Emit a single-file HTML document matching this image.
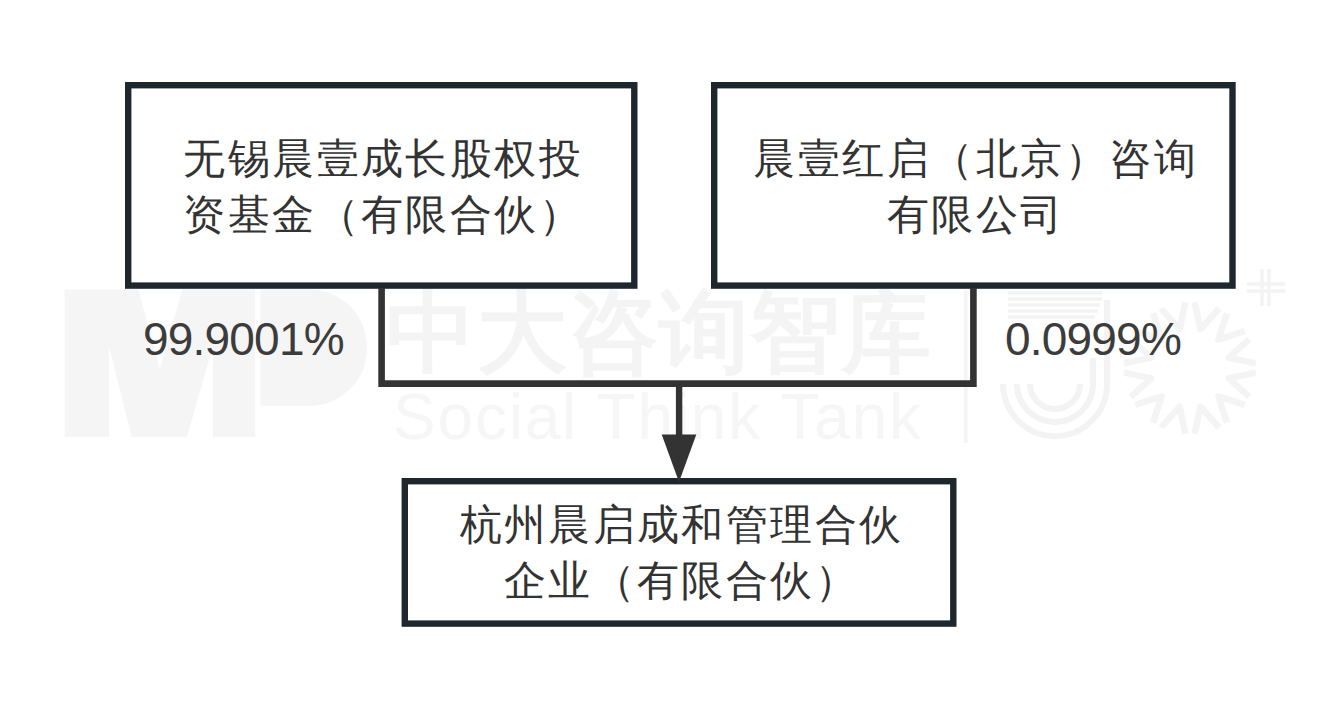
<!DOCTYPE html>
<html><head><meta charset="utf-8">
<style>
html,body{margin:0;padding:0;background:#fff;width:1336px;height:709px;overflow:hidden}
body{position:relative;font-family:"Liberation Sans",sans-serif;color:#333}
svg{position:absolute;left:0;top:0}
.t{position:absolute;font-size:42px;line-height:56px;text-align:center;white-space:nowrap;color:#333}
.p{position:absolute;font-size:46px;line-height:50px;letter-spacing:-0.8px;white-space:nowrap;color:#3c3c3c}
.wm{position:absolute;white-space:nowrap;color:#f4f4f4}
</style></head><body>
<!-- watermark -->
<svg width="1336" height="709" viewBox="0 0 1336 709">
  <g fill="#f5f5f5">
    <path d="M64.6 289.6 H138.4 L159.8 368.5 L182.4 289.6 H255.2 V437 H212.9 V346 L186.9 437 H131.6 L109 346 V437 H64.6 Z"/>
    <path d="M260.4 289.6 H310 A57 58 0 0 1 310 405.8 H260.4 Z"/>
  </g>
  <rect x="964" y="290" width="3.5" height="153" fill="#f4f4f4"/>
  <g fill="none" stroke="#f3f3f3" stroke-width="5">
    <path d="M1008 293 H1103 M1008 299 H1102 M1008 305 H1100 M1008 311 H1098 M1008 317 H1095" stroke-width="3.5"/>
    <path d="M1003 384 A52 52 0 0 0 1107 384 V300" stroke-width="6"/>
    <path d="M1017 384 A38 38 0 0 0 1093 384 V358" stroke-width="6"/>
    <path d="M1030 384 A25 25 0 0 0 1080 384" stroke-width="6"/>
    <path d="M1262 269 V306 M1269 269 V306 M1247 284 H1285 M1247 291 H1285" stroke-width="3.5"/>
  </g>
  <g fill="none" stroke="#f4f4f4" stroke-width="6.5" stroke-linejoin="round">
    <path d="M1194.6 302.2 L1200.4 329.4 L1218.9 308.7 M1226.9 313.3 L1218.3 339.7 L1244.7 331.1 M1249.3 339.1 L1228.6 357.6 L1255.8 363.4 M1255.8 372.6 L1228.6 378.4 L1249.3 396.9 M1244.7 404.9 L1218.3 396.3 L1226.9 422.7 M1218.9 427.3 L1200.4 406.6 L1194.6 433.8 M1185.4 433.8 L1179.6 406.6 L1161.1 427.3 M1153.1 422.7 L1161.7 396.3 L1135.3 404.9 M1130.7 396.9 L1151.4 378.4 L1124.2 372.6 M1124.2 363.4 L1151.4 357.6 L1130.7 339.1 M1135.3 331.1 L1161.7 339.7 L1153.1 313.3 M1161.1 308.7 L1179.6 329.4 L1185.4 302.2"/>
  </g>
</svg>
<div class="wm" style="left:386px;top:277px;font-size:90px;line-height:110px;font-weight:700;letter-spacing:1px">中大咨询智库</div>
<div class="wm" style="left:393px;top:382px;font-size:64px;line-height:70px;letter-spacing:1.8px;color:#f6f6f6">Social Think Tank</div>
<svg width="1336" height="709" viewBox="0 0 1336 709">
  <rect x="128.2" y="85.2" width="506.1" height="200.4" fill="#fff" stroke="#1f272e" stroke-width="6.4"/>
  <rect x="714.2" y="85.2" width="518.3" height="200.4" fill="#fff" stroke="#1f272e" stroke-width="6.4"/>
  <path d="M381.6 288 V383.6 H973.4 V288" fill="none" stroke="#333" stroke-width="6.6"/>
  <path d="M679.1 383 V436" fill="none" stroke="#333" stroke-width="6.4"/>
  <rect x="404.8" y="481.2" width="548.5" height="142.4" fill="#fff" stroke="#1f272e" stroke-width="6.4"/>
  <polygon points="661.7,434.6 696.3,434.6 679,482" fill="#333"/>
</svg>
<div class="t" style="left:133.3px;top:131px;width:500px;letter-spacing:2.4px">无锡晨壹成长股权投<br>资基金（有限合伙）</div>
<div class="t" style="left:719.5px;top:131px;width:512px;letter-spacing:2.5px">晨壹红启（北京）咨询<br>有限公司</div>
<div class="t" style="left:410.5px;top:497px;width:542px;letter-spacing:2.4px">杭州晨启成和管理合伙<br>企业（有限合伙）</div>
<div class="p" style="left:143px;top:314px">99.9001%</div>
<div class="p" style="left:1005px;top:314px">0.0999%</div>
</body></html>
